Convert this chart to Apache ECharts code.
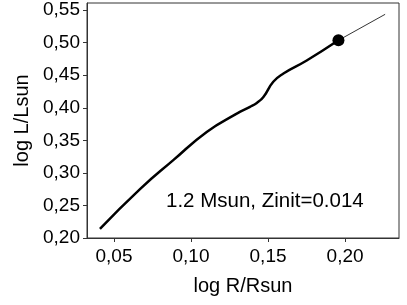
<!DOCTYPE html>
<html>
<head>
<meta charset="utf-8">
<script src="https://cdn.jsdelivr.net/npm/echarts@6/dist/echarts.min.js"></script>
<style>html,body{margin:0;padding:0;background:#fff}#c{width:407px;height:305px}</style>
</head>
<body>
<div id="c"></div>
<script>
// Evolutionary track (thick part up to the dot)
const trackX = [0.0409, 0.0669, 0.0885, 0.1102, 0.1297, 0.1383, 0.1427, 0.1470, 0.1534, 0.1600, 0.1751, 0.1957];
const trackY = [0.214, 0.2752, 0.3196, 0.363, 0.391, 0.4014, 0.4075, 0.4167, 0.440, 0.4527, 0.4727, 0.5037];
// Thin continuation
const tailX = [0.1957, 0.2260];
const tailY = [0.5037, 0.5436];
// Current point
const dotX = [0.1957];
const dotY = [0.5037];
// Ticks
const xTicks = [0.05, 0.10, 0.15, 0.20];
const yTicks = [0.20, 0.25, 0.30, 0.35, 0.40, 0.45, 0.50, 0.55];
const annotation = '1.2 Msun, Zinit=0.014';

const zip = (a, b) => a.map((v, i) => [v, b[i]]);
const fmt = v => v.toFixed(2).replace('.', ',');
const font = '"Liberation Sans", Arial, sans-serif';

const chart = echarts.init(document.getElementById('c'), null, {renderer: 'canvas'});
chart.setOption({
  animation: false,
  backgroundColor: '#fff',
  grid: {left: 87, right: 8, top: 3, bottom: 67, show: true, borderColor: '#333', borderWidth: 1, backgroundColor: 'transparent'},
  xAxis: {
    type: 'value', min: 0.0325, max: 0.235,
    name: 'log R/Rsun', nameLocation: 'middle', nameGap: 38,
    nameTextStyle: {fontFamily: font, fontSize: 20, color: '#000'},
    axisLine: {show: true, lineStyle: {color: '#333', width: 1}},
    axisTick: {show: true, inside: false, length: 4, lineStyle: {color: '#333'}, customValues: xTicks},
    axisLabel: {fontFamily: font, fontSize: 19, color: '#000', margin: 9, formatter: fmt, customValues: xTicks},
    splitLine: {show: false}
  },
  yAxis: {
    type: 'value', min: 0.20, max: 0.561,
    name: 'log L/Lsun', nameLocation: 'middle', nameGap: 55, nameRotate: 90,
    nameTextStyle: {fontFamily: font, fontSize: 20, color: '#000'},
    axisLine: {show: true, lineStyle: {color: '#333', width: 1}},
    axisTick: {show: true, inside: false, length: 4, lineStyle: {color: '#333'}, customValues: yTicks},
    axisLabel: {fontFamily: font, fontSize: 19, color: '#000', margin: 7, formatter: fmt, customValues: yTicks},
    splitLine: {show: false}
  },
  series: [
    {type: 'line', data: zip(trackX, trackY), smooth: 0.5, showSymbol: false, symbol: 'none',
     lineStyle: {color: '#000', width: 2.5}},
    {type: 'line', data: zip(tailX, tailY), showSymbol: false, symbol: 'none',
     lineStyle: {color: '#000', width: 0.8}},
    {type: 'scatter', data: zip(dotX, dotY), symbol: 'circle', symbolSize: 12,
     itemStyle: {color: '#000', opacity: 1}}
  ],
  graphic: [{
    type: 'text', left: 166, top: 191,
    style: {text: annotation, fontFamily: font, fontSize: 20.5, fill: '#000'}
  }]
});
</script>
</body>
</html>
